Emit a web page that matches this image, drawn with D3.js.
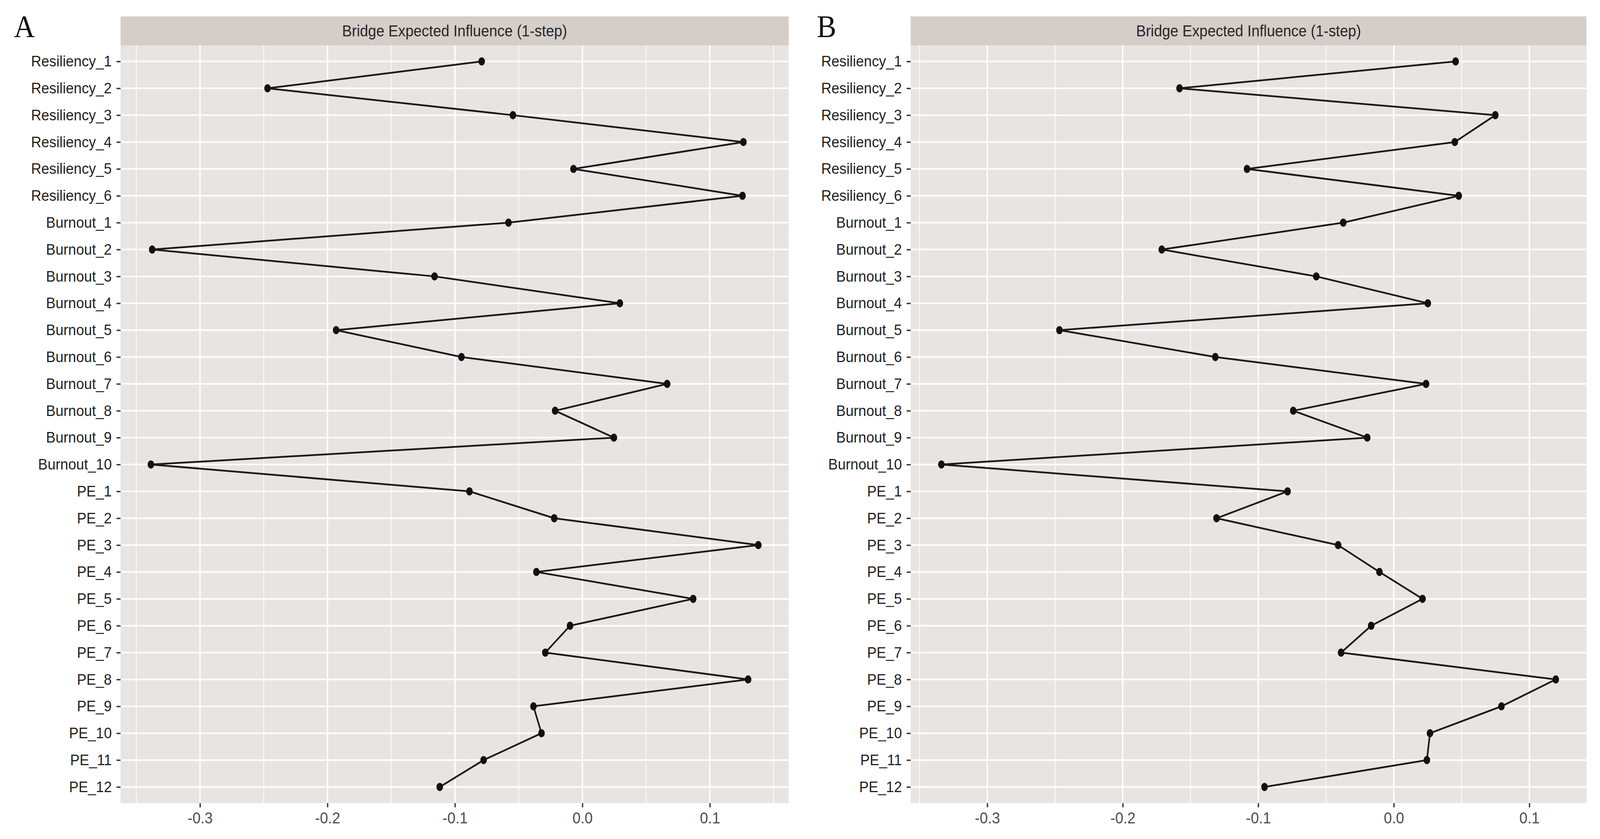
<!DOCTYPE html>
<html>
<head>
<meta charset="utf-8">
<script src="https://cdn.jsdelivr.net/npm/d3@7"></script>
<style>
  html, body { margin: 0; padding: 0; background: #fff; overflow: hidden; }
  svg { display: block; width: 100vw; height: 100vh; }
</style>
</head>
<body>
<div id="chart"></div>
<script>
// === Data ===
const nodes = [
  "Resiliency_1", "Resiliency_2", "Resiliency_3", "Resiliency_4", "Resiliency_5", "Resiliency_6",
  "Burnout_1", "Burnout_2", "Burnout_3", "Burnout_4", "Burnout_5", "Burnout_6", "Burnout_7",
  "Burnout_8", "Burnout_9", "Burnout_10",
  "PE_1", "PE_2", "PE_3", "PE_4", "PE_5", "PE_6", "PE_7", "PE_8", "PE_9", "PE_10", "PE_11", "PE_12"
];

const valuesA = [
  -0.079, -0.247, -0.0545, 0.1263, -0.007, 0.1256,
  -0.058, -0.3375, -0.116, 0.0294, -0.1932, -0.0949, 0.0665, -0.0214, 0.0247, -0.3385,
  -0.0886, -0.0221, 0.138, -0.0361, 0.0869, -0.0097, -0.0291, 0.130, -0.0384, -0.0321, -0.0775, -0.1119
];

const valuesB = [
  0.0456, -0.1581, 0.0749, 0.045, -0.1083, 0.0479,
  -0.0373, -0.1712, -0.0572, 0.0251, -0.2467, -0.1317, 0.0238, -0.0742, -0.0196, -0.3338,
  -0.0784, -0.1308, -0.0411, -0.0106, 0.0212, -0.0167, -0.0389, 0.1195, 0.0794, 0.0267, 0.0244, -0.0954
];

const xTicks = [-0.3, -0.2, -0.1, 0.0, 0.1];
const stripTitle = "Bridge Expected Influence (1-step)";

// === Layout ===
const width = 4380, height = 2148;
const stripTop = 42, panelTop = 116, panelBottom = 2056;

const panels = [
  {tag: "A", values: valuesA, left: 330, right: 2159, tagX: 38},
  {tag: "B", values: valuesB, left: 2493, right: 4343, tagX: 2236}
];

// stretch the 4380x2148 figure over the whole window
const svg = d3.select("#chart").append("svg")
  .attr("viewBox", `0 0 ${width} ${height}`)
  .attr("preserveAspectRatio", "none");

svg.append("rect").attr("width", width).attr("height", height).attr("fill", "#fff");

panels.forEach(p => {
  const g = svg.append("g");

  // ggplot style 5% expansion of the continuous range
  const ext = d3.extent(p.values);
  const pad = (ext[1] - ext[0]) * 0.05;

  const x = d3.scaleLinear()
    .domain([ext[0] - pad, ext[1] + pad])
    .range([p.left, p.right]);

  const y = d3.scalePoint()
    .domain(nodes)
    .range([panelTop, panelBottom])
    .padding(0.6);

  // panel background + strip
  g.append("rect")
    .attr("x", p.left).attr("y", panelTop)
    .attr("width", p.right - p.left).attr("height", panelBottom - panelTop)
    .attr("fill", "#e8e4e1");

  g.append("rect")
    .attr("x", p.left).attr("y", stripTop)
    .attr("width", p.right - p.left).attr("height", panelTop - stripTop)
    .attr("fill", "#d5cdc8");

  g.append("text")
    .attr("x", (p.left + p.right) / 2).attr("y", (stripTop + panelTop) / 2)
    .attr("dy", "0.36em")
    .attr("text-anchor", "middle")
    .style("font-family", "'Liberation Sans', Arial, sans-serif")
    .style("font-size", "40px")
    .attr("fill", "#262626")
    .text(stripTitle);

  // minor grid (midpoints between major ticks)
  const minor = d3.range(-0.35, 0.2, 0.1).map(v => +v.toFixed(2))
    .filter(v => v > x.domain()[0] && v < x.domain()[1]);

  g.selectAll(".minor").data(minor).join("line")
    .attr("x1", d => x(d)).attr("x2", d => x(d))
    .attr("y1", panelTop).attr("y2", panelBottom)
    .attr("stroke", "#fff").attr("stroke-width", 2);

  g.selectAll(".major-x").data(xTicks).join("line")
    .attr("x1", d => x(d)).attr("x2", d => x(d))
    .attr("y1", panelTop).attr("y2", panelBottom)
    .attr("stroke", "#fff").attr("stroke-width", 4);

  g.selectAll(".major-y").data(nodes).join("line")
    .attr("x1", p.left).attr("x2", p.right)
    .attr("y1", d => y(d)).attr("y2", d => y(d))
    .attr("stroke", "#fff").attr("stroke-width", 4);

  // axes
  const yAxis = g.append("g")
    .attr("transform", `translate(${p.left},0)`)
    .call(d3.axisLeft(y).tickSize(11).tickPadding(13));

  const xAxis = g.append("g")
    .attr("transform", `translate(0,${panelBottom})`)
    .call(d3.axisBottom(x).tickValues(xTicks).tickSize(11).tickPadding(13)
      .tickFormat(d => d3.format(".1f")(d).replace("\u2212", "-")));

  [yAxis, xAxis].forEach(ax => {
    ax.select(".domain").remove();
    ax.selectAll(".tick line").attr("stroke", "#333").attr("stroke-width", 3.5);
    ax.selectAll(".tick text")
      .style("font-family", "'Liberation Sans', Arial, sans-serif")
      .style("font-size", "39px");
  });
  yAxis.selectAll(".tick text").attr("fill", "#222");
  xAxis.selectAll(".tick text").attr("fill", "#4d4d4d").style("font-size", "40px");

  // line + points
  const pts = nodes.map((n, i) => ({node: n, value: p.values[i]}));

  const line = d3.line()
    .x(d => x(d.value))
    .y(d => y(d.node));

  g.append("path").datum(pts)
    .attr("d", line)
    .attr("fill", "none")
    .attr("stroke", "#1a1a1a")
    .attr("stroke-width", 4.5)
    .attr("stroke-linejoin", "round");

  g.selectAll(".pt").data(pts).join("ellipse")
    .attr("cx", d => x(d.value)).attr("cy", d => y(d.node))
    .attr("rx", 9).attr("ry", 10.5)
    .attr("fill", "#111");

  // panel tag
  svg.append("text")
    .attr("x", p.tagX).attr("y", 95)
    .style("font-family", "'Liberation Serif', 'Times New Roman', serif")
    .style("font-size", "80px")
    .attr("fill", "#111")
    .text(p.tag);
});
</script>
</body>
</html>
